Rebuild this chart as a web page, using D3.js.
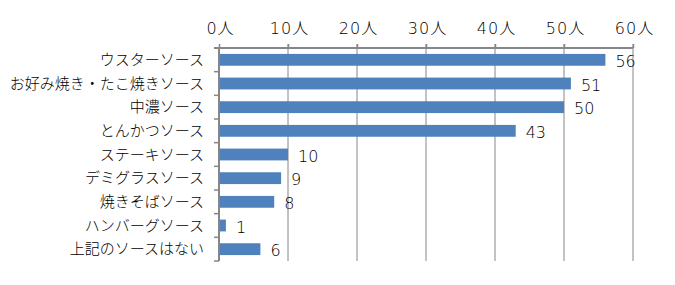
<!DOCTYPE html>
<html>
<head>
<meta charset="utf-8">
<script src="https://cdn.jsdelivr.net/npm/d3@7"></script>
<style>
  body { margin: 0; background: #fff; }
  text { font-family: "Noto Sans CJK JP", sans-serif; font-weight: 300; fill: #000; }
  .num { font-family: "DejaVu Sans", "Noto Sans CJK JP", sans-serif; font-weight: 200; }
</style>
</head>
<body>
<svg id="chart"></svg>
<script>
// data
var categories = ["ウスターソース", "お好み焼き・たこ焼きソース", "中濃ソース", "とんかつソース",
  "ステーキソース", "デミグラスソース", "焼きそばソース", "ハンバーグソース", "上記のソースはない"];
var counts = [56, 51, 50, 43, 10, 9, 8, 1, 6];
var tickValues = [0, 10, 20, 30, 40, 50, 60];
var tickUnit = "人";

var width = 675, height = 285;
var margin = { top: 48, right: 42, bottom: 24, left: 219 };

var svg = d3.select("#chart")
  .attr("width", width)
  .attr("height", height);

var x = d3.scaleLinear()
  .domain([0, 60])
  .range([margin.left, width - margin.right]);

var y = d3.scaleBand()
  .domain(categories)
  .range([margin.top, height - margin.bottom])
  .paddingInner(0.5)
  .paddingOuter(0.25);

var gridColor = "#868686";

// vertical gridlines
svg.append("g").selectAll("line")
  .data(tickValues.slice(1))
  .enter().append("line")
  .attr("x1", d => x(d)).attr("x2", d => x(d))
  .attr("y1", margin.top - 4).attr("y2", height - margin.bottom)
  .attr("stroke", gridColor)
  .attr("stroke-width", 1);

// bars
svg.append("g").selectAll("rect")
  .data(counts)
  .enter().append("rect")
  .attr("x", x(0))
  .attr("y", (d, i) => y(categories[i]))
  .attr("width", d => x(d) - x(0))
  .attr("height", y.bandwidth())
  .attr("fill", "#4F81BD");

// value labels
svg.append("g").selectAll("text")
  .data(counts)
  .enter().append("text")
  .attr("class", "num")
  .attr("x", d => x(d) + 10)
  .attr("y", (d, i) => y(categories[i]) + y.bandwidth() / 2 + 7)
  .attr("font-size", 16)
  .text(d => d);

// top axis
var xAxis = svg.append("g")
  .attr("transform", "translate(0," + margin.top + ")")
  .call(d3.axisTop(x).tickValues(tickValues).tickSize(4).tickPadding(10)
    .tickFormat(d => d + tickUnit));
xAxis.select(".domain").attr("stroke", gridColor).attr("stroke-width", 2)
  .attr("d", "M" + (margin.left - 5) + ",0H" + x(60));
xAxis.selectAll(".tick line").attr("stroke", gridColor).attr("stroke-width", 1.5);
xAxis.selectAll(".tick text")
  .attr("class", "num")
  .attr("font-size", 16)
  .attr("font-family", null)
  .attr("letter-spacing", 1)
  .attr("dx", 1);

// left axis
var bandStep = y.step();
var yAxis = svg.append("g")
  .attr("transform", "translate(" + margin.left + ",0)");
yAxis.append("line")
  .attr("x1", 0).attr("x2", 0)
  .attr("y1", margin.top).attr("y2", height - margin.bottom)
  .attr("stroke", gridColor).attr("stroke-width", 2);
yAxis.selectAll(".ytick")
  .data(d3.range(categories.length + 1))
  .enter().append("line")
  .attr("x1", -5).attr("x2", 0)
  .attr("y1", i => margin.top + i * bandStep)
  .attr("y2", i => margin.top + i * bandStep)
  .attr("stroke", gridColor).attr("stroke-width", 1.5);
yAxis.selectAll(".ylabel")
  .data(categories)
  .enter().append("text")
  .attr("x", -15)
  .attr("y", d => y(d) + y.bandwidth() / 2 + 5)
  .attr("text-anchor", "end")
  .attr("font-size", 15)
  .text(d => d);
</script>
</body>
</html>
